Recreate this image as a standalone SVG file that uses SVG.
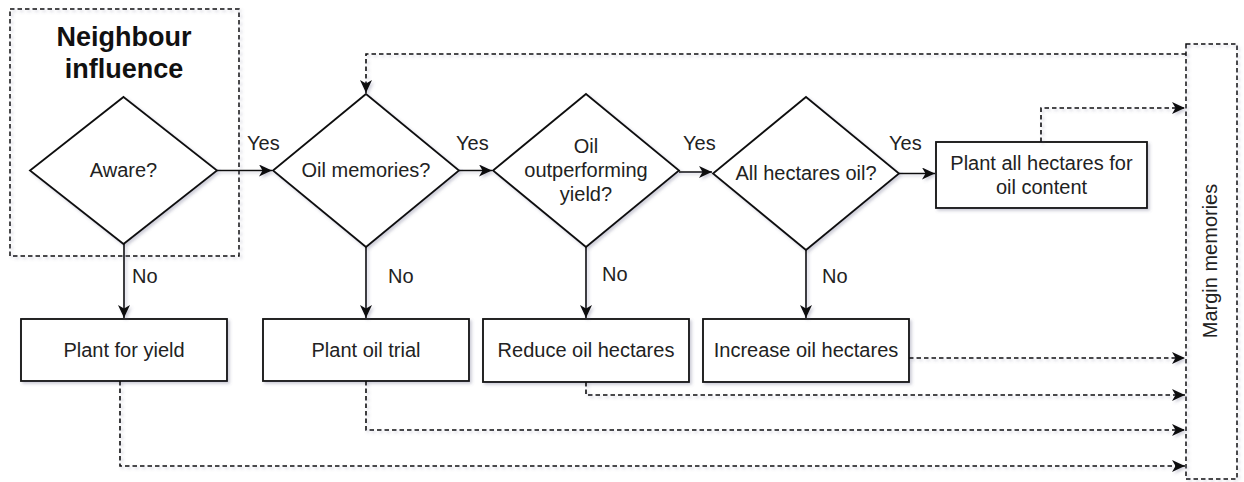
<svg xmlns="http://www.w3.org/2000/svg" width="1244" height="482" viewBox="0 0 1244 482">
<style>
text{font-family:"Liberation Sans",Arial,sans-serif;font-size:20px;fill:#222;text-anchor:middle}
.title{font-weight:bold;font-size:27px;fill:#111}
.shape{fill:#fff;stroke:#111;stroke-width:1.8}
.group{fill:none;stroke:#111;stroke-width:1.5;stroke-dasharray:4.5 3}
.solid{fill:none;stroke:#111;stroke-width:1.6}
.dash{fill:none;stroke:#111;stroke-width:1.6;stroke-dasharray:4.5 3}
.lbl{text-anchor:start}
</style>
<defs>
<filter id="sh" x="-10%" y="-10%" width="130%" height="130%">
<feDropShadow dx="2" dy="2" stdDeviation="1.5" flood-color="#606080" flood-opacity="0.3"/>
</filter>
<marker id="ah" markerUnits="userSpaceOnUse" markerWidth="14" markerHeight="12" refX="13" refY="6" orient="auto">
<path d="M0,0 L13,6 L0,12 L3.5,6 z" fill="#111"/>
</marker>
</defs>
<rect width="1244" height="482" fill="#fff"/>

<g id="neighbour-influence">
<rect class="group" x="10" y="9" width="229" height="247" filter="url(#sh)"/>
<text class="title" x="124" y="46">Neighbour</text>
<text class="title" x="124" y="78">influence</text>
</g>

<g id="margin-memories">
<rect class="group" x="1186" y="44" width="51" height="435" filter="url(#sh)"/>
<text transform="translate(1217,261) rotate(-90)">Margin memories</text>
</g>

<g id="aware">
<polygon class="shape" points="123.5,97 217,170.5 123.5,244 30,170.5" filter="url(#sh)"/>
<text x="123.5" y="177">Aware?</text>
</g>

<g id="oil-memories">
<polygon class="shape" points="366,94 459,170.5 366,247 273,170.5" filter="url(#sh)"/>
<text x="366" y="177">Oil memories?</text>
</g>

<g id="oil-outperforming">
<polygon class="shape" points="586,94 679,170.5 586,247 493,170.5" filter="url(#sh)"/>
<text x="586" y="153">Oil</text>
<text x="586" y="177">outperforming</text>
<text x="586" y="201">yield?</text>
</g>

<g id="all-hectares">
<polygon class="shape" points="806,97 899,173.5 806,250 713,173.5" filter="url(#sh)"/>
<text x="806" y="180">All hectares oil?</text>
</g>

<g id="plant-all">
<rect class="shape" x="936" y="142" width="211" height="66" filter="url(#sh)"/>
<text x="1041.5" y="170">Plant all hectares for</text>
<text x="1041.5" y="194">oil content</text>
</g>

<g id="plant-for-yield">
<rect class="shape" x="21" y="319" width="206" height="62" filter="url(#sh)"/>
<text x="124" y="357">Plant for yield</text>
</g>

<g id="plant-oil-trial">
<rect class="shape" x="263" y="319" width="206" height="62" filter="url(#sh)"/>
<text x="366" y="357">Plant oil trial</text>
</g>

<g id="reduce-oil">
<rect class="shape" x="483" y="319" width="206" height="63" filter="url(#sh)"/>
<text x="586" y="357">Reduce oil hectares</text>
</g>

<g id="increase-oil">
<rect class="shape" x="703" y="319" width="206" height="63" filter="url(#sh)"/>
<text x="806" y="357">Increase oil hectares</text>
</g>

<g id="connectors">
<g filter="url(#sh)">
<path class="solid" d="M217,170.5 H272" marker-end="url(#ah)"/>
<path class="solid" d="M459,170.5 H492" marker-end="url(#ah)"/>
<path class="solid" d="M679,172 H712" marker-end="url(#ah)"/>
<path class="solid" d="M899,173.5 H935" marker-end="url(#ah)"/>
<path class="solid" d="M124,244 V318" marker-end="url(#ah)"/>
<path class="solid" d="M366,247 V318" marker-end="url(#ah)"/>
<path class="solid" d="M586,247 V318" marker-end="url(#ah)"/>
<path class="solid" d="M806,250 V318" marker-end="url(#ah)"/>
<path class="dash" d="M1186,54 H366 V93" marker-end="url(#ah)"/>
<path class="dash" d="M1041,142 V108 H1185" marker-end="url(#ah)"/>
<path class="dash" d="M909,358 H1185" marker-end="url(#ah)"/>
<path class="dash" d="M586,382 V395 H1185" marker-end="url(#ah)"/>
<path class="dash" d="M366,381 V430 H1185" marker-end="url(#ah)"/>
<path class="dash" d="M120,381 V466 H1185" marker-end="url(#ah)"/>
</g>
<text class="lbl" x="247" y="150">Yes</text>
<text class="lbl" x="456" y="150">Yes</text>
<text class="lbl" x="683" y="150">Yes</text>
<text class="lbl" x="889" y="150">Yes</text>
<text class="lbl" x="132" y="283">No</text>
<text class="lbl" x="388" y="283">No</text>
<text class="lbl" x="602" y="281">No</text>
<text class="lbl" x="822" y="283">No</text>
</g>
</svg>
